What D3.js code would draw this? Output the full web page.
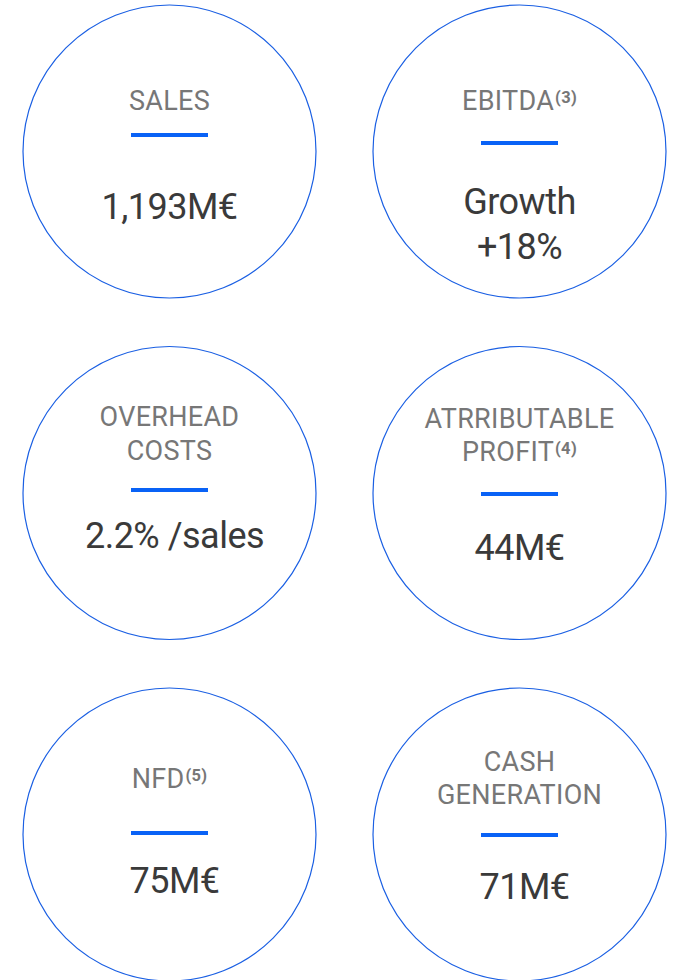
<!DOCTYPE html>
<html>
<head>
<meta charset="utf-8">
<script src="https://cdn.jsdelivr.net/npm/d3@7"></script>
<style>
  body { margin: 0; background: #fff; }
  svg { display: block; }
</style>
</head>
<body>
<script>
// KPI bubbles, 2 columns x 3 rows
const labels = [
  ["SALES"],
  ["EBITDA"],
  ["OVERHEAD", "COSTS"],
  ["ATRRIBUTABLE", "PROFIT"],
  ["NFD"],
  ["CASH", "GENERATION"]
];
const notes = ["", "(3)", "", "(4)", "(5)", ""];
const values = [
  ["1,193M€"],
  ["Growth", "+18%"],
  ["2.2% /sales"],
  ["44M€"],
  ["75M€"],
  ["71M€"]
];
const cols = [0, 1];
const rows = [0, 1, 2];

// vertical placement inside each circle (relative to centre): label baseline, bar top, value baseline
const layout = [
  { lab: -41.5, bar: -18.5, val: 67.5, dx: 0 },
  { lab: -41.5, bar: -10.5, val: 62.5, dx: 0 },
  { lab: -67, bar: -5, val: 55, dx: 5 },
  { lab: -65.5, bar: -1, val: 67, dx: 0 },
  { lab: -47, bar: -3.5, val: 58, dx: 5 },
  { lab: -64, bar: -1.5, val: 64.5, dx: 5 }
];

const W = 679, H = 980, R = 146.5;
const svg = d3.select("body").append("svg").attr("width", W).attr("height", H);

const x = d3.scalePoint().domain(cols).range([169.5, 519.5]);
const y = d3.scalePoint().domain(rows).range([151.5, 834.5]);

const cards = labels.map((l, i) => ({
  label: l, note: notes[i], value: values[i], col: i % 2, row: Math.floor(i / 2), lay: layout[i]
}));

const g = svg.selectAll("g.card").data(cards).join("g")
  .attr("class", "card")
  .attr("transform", d => `translate(${x(d.col)},${y(d.row)})`);

g.append("circle")
  .attr("r", R)
  .attr("fill", "none")
  .attr("stroke", "#1a5fe3")
  .attr("stroke-width", 1.2);

const font = "Roboto, 'Noto Sans', sans-serif";

g.each(function (d) {
  const sel = d3.select(this);
  d.label.forEach((line, j) => {
    const t = sel.append("text")
      .attr("x", 0)
      .attr("y", d.lay.lab + j * 33.5)
      .attr("text-anchor", "middle")
      .attr("font-family", font)
      .attr("font-size", 27)
      .attr("letter-spacing", 0.3)
      .attr("fill", "#777777")
      .text(line);
    if (j === d.label.length - 1 && d.note) {
      t.append("tspan")
        .attr("dy", -7)
        .attr("dx", 1)
        .attr("font-size", 16.5)
        .attr("font-weight", "bold")
        .attr("letter-spacing", 0.3)
        .text(d.note);
    }
  });

  sel.append("rect")
    .attr("x", -38.5)
    .attr("y", d.lay.bar)
    .attr("width", 77)
    .attr("height", 4)
    .attr("fill", "#0962f6");

  d.value.forEach((line, j) => {
    sel.append("text")
      .attr("x", d.lay.dx)
      .attr("y", d.lay.val + j * 45)
      .attr("text-anchor", "middle")
      .attr("font-family", font)
      .attr("font-size", 36)
      .attr("letter-spacing", -0.5)
      .attr("fill", "#3a3a3a")
      .text(line);
  });
});
</script>
</body>
</html>
